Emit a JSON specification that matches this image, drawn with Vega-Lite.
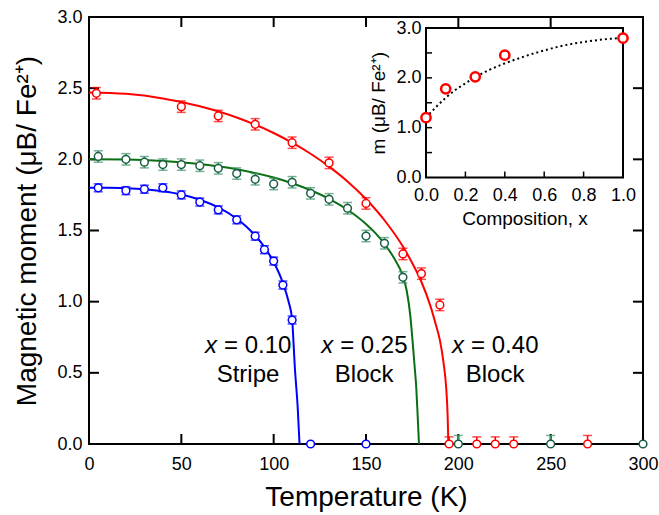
{
  "$schema": "https://vega.github.io/schema/vega-lite/v6.json",
  "width": 554,
  "height": 427,
  "autosize": "none",
  "padding": {"left": 89, "top": 17, "right": 16, "bottom": 71},
  "background": "white",
  "config": {
    "view": {"stroke": null, "fill": null},
    "font": "Liberation Sans",
    "axis": {"grid": false, "labelColor": "#000000", "titleColor": "#000000", "titleFontWeight": "normal", "labelFont": "Liberation Sans", "titleFont": "Liberation Sans"},
    "text": {"font": "Liberation Sans", "color": "black"}
  },
  "datasets": {
    "curves": [
      {"s": "0.10", "T": 0, "M": 1.80}, {"s": "0.10", "T": 10, "M": 1.80}, {"s": "0.10", "T": 20, "M": 1.797}, {"s": "0.10", "T": 30, "M": 1.79}, {"s": "0.10", "T": 40, "M": 1.776}, {"s": "0.10", "T": 50, "M": 1.753}, {"s": "0.10", "T": 60, "M": 1.716}, {"s": "0.10", "T": 70, "M": 1.662}, {"s": "0.10", "T": 80, "M": 1.583}, {"s": "0.10", "T": 85, "M": 1.530}, {"s": "0.10", "T": 90, "M": 1.465}, {"s": "0.10", "T": 95, "M": 1.384}, {"s": "0.10", "T": 100, "M": 1.279}, {"s": "0.10", "T": 105, "M": 1.131}, {"s": "0.10", "T": 108, "M": 1.004}, {"s": "0.10", "T": 110, "M": 0.875}, {"s": "0.10", "T": 110.8, "M": 0.70}, {"s": "0.10", "T": 111.5, "M": 0.53}, {"s": "0.10", "T": 112.3, "M": 0.39}, {"s": "0.10", "T": 113.0, "M": 0.26}, {"s": "0.10", "T": 113.5, "M": 0.13}, {"s": "0.10", "T": 114, "M": 0},
      {"s": "0.25", "T": 0, "M": 2.0}, {"s": "0.25", "T": 20, "M": 1.998}, {"s": "0.25", "T": 40, "M": 1.988}, {"s": "0.25", "T": 60, "M": 1.967}, {"s": "0.25", "T": 80, "M": 1.930}, {"s": "0.25", "T": 100, "M": 1.872}, {"s": "0.25", "T": 110, "M": 1.832}, {"s": "0.25", "T": 120, "M": 1.783}, {"s": "0.25", "T": 130, "M": 1.723}, {"s": "0.25", "T": 140, "M": 1.646}, {"s": "0.25", "T": 150, "M": 1.546}, {"s": "0.25", "T": 155, "M": 1.483}, {"s": "0.25", "T": 160, "M": 1.406}, {"s": "0.25", "T": 165, "M": 1.310}, {"s": "0.25", "T": 170, "M": 1.178}, {"s": "0.25", "T": 172, "M": 1.08}, {"s": "0.25", "T": 174, "M": 0.90}, {"s": "0.25", "T": 175.3, "M": 0.71}, {"s": "0.25", "T": 176.3, "M": 0.55}, {"s": "0.25", "T": 177.2, "M": 0.40}, {"s": "0.25", "T": 177.9, "M": 0.22}, {"s": "0.25", "T": 178.4, "M": 0.08}, {"s": "0.25", "T": 178.7, "M": 0},
      {"s": "0.40", "T": 0, "M": 2.47}, {"s": "0.40", "T": 20, "M": 2.46}, {"s": "0.40", "T": 40, "M": 2.428}, {"s": "0.40", "T": 60, "M": 2.373}, {"s": "0.40", "T": 80, "M": 2.294}, {"s": "0.40", "T": 100, "M": 2.185}, {"s": "0.40", "T": 110, "M": 2.117}, {"s": "0.40", "T": 120, "M": 2.039}, {"s": "0.40", "T": 130, "M": 1.949}, {"s": "0.40", "T": 140, "M": 1.845}, {"s": "0.40", "T": 150, "M": 1.721}, {"s": "0.40", "T": 160, "M": 1.572}, {"s": "0.40", "T": 170, "M": 1.387}, {"s": "0.40", "T": 175, "M": 1.272}, {"s": "0.40", "T": 180, "M": 1.14}, {"s": "0.40", "T": 185, "M": 0.965}, {"s": "0.40", "T": 188, "M": 0.83}, {"s": "0.40", "T": 190, "M": 0.73}, {"s": "0.40", "T": 192, "M": 0.57}, {"s": "0.40", "T": 193.5, "M": 0.38}, {"s": "0.40", "T": 194.2, "M": 0.2}, {"s": "0.40", "T": 194.6, "M": 0}
    ],
    "pts": [
      {"s": "0.10", "T": 5, "M": 1.80, "lo": 1.772, "hi": 1.828},
      {"s": "0.10", "T": 20, "M": 1.78, "lo": 1.752, "hi": 1.808},
      {"s": "0.10", "T": 30, "M": 1.79, "lo": 1.762, "hi": 1.818},
      {"s": "0.10", "T": 40, "M": 1.80, "lo": 1.772, "hi": 1.828},
      {"s": "0.10", "T": 50, "M": 1.75, "lo": 1.722, "hi": 1.778},
      {"s": "0.10", "T": 60, "M": 1.70, "lo": 1.672, "hi": 1.728},
      {"s": "0.10", "T": 70, "M": 1.645, "lo": 1.617, "hi": 1.673},
      {"s": "0.10", "T": 80, "M": 1.575, "lo": 1.547, "hi": 1.603},
      {"s": "0.10", "T": 90, "M": 1.46, "lo": 1.432, "hi": 1.488},
      {"s": "0.10", "T": 95, "M": 1.365, "lo": 1.337, "hi": 1.393},
      {"s": "0.10", "T": 100, "M": 1.285, "lo": 1.257, "hi": 1.313},
      {"s": "0.10", "T": 105, "M": 1.117, "lo": 1.089, "hi": 1.145},
      {"s": "0.10", "T": 110, "M": 0.871, "lo": 0.843, "hi": 0.899},
      {"s": "0.10", "T": 120, "M": 0},
      {"s": "0.10", "T": 150, "M": 0},
      {"s": "0.25", "T": 5, "M": 2.02, "lo": 1.98, "hi": 2.06},
      {"s": "0.25", "T": 20, "M": 2.0, "lo": 1.96, "hi": 2.04},
      {"s": "0.25", "T": 30, "M": 1.98, "lo": 1.94, "hi": 2.02},
      {"s": "0.25", "T": 40, "M": 1.963, "lo": 1.923, "hi": 2.003},
      {"s": "0.25", "T": 50, "M": 1.963, "lo": 1.923, "hi": 2.003},
      {"s": "0.25", "T": 60, "M": 1.955, "lo": 1.915, "hi": 1.995},
      {"s": "0.25", "T": 70, "M": 1.937, "lo": 1.897, "hi": 1.977},
      {"s": "0.25", "T": 80, "M": 1.90, "lo": 1.86, "hi": 1.94},
      {"s": "0.25", "T": 90, "M": 1.86, "lo": 1.82, "hi": 1.90},
      {"s": "0.25", "T": 100, "M": 1.827, "lo": 1.787, "hi": 1.867},
      {"s": "0.25", "T": 110, "M": 1.839, "lo": 1.799, "hi": 1.879},
      {"s": "0.25", "T": 120, "M": 1.761, "lo": 1.721, "hi": 1.801},
      {"s": "0.25", "T": 130, "M": 1.719, "lo": 1.679, "hi": 1.759},
      {"s": "0.25", "T": 140, "M": 1.656, "lo": 1.616, "hi": 1.696},
      {"s": "0.25", "T": 150, "M": 1.461, "lo": 1.421, "hi": 1.501},
      {"s": "0.25", "T": 160, "M": 1.41, "lo": 1.37, "hi": 1.45},
      {"s": "0.25", "T": 170, "M": 1.171, "lo": 1.131, "hi": 1.211},
      {"s": "0.25", "T": 200, "M": 0, "lo": 0, "hi": 0.06},
      {"s": "0.25", "T": 250, "M": 0, "lo": 0, "hi": 0.06},
      {"s": "0.25", "T": 300, "M": 0},
      {"s": "0.40", "T": 4, "M": 2.464, "lo": 2.424, "hi": 2.504},
      {"s": "0.40", "T": 50, "M": 2.37, "lo": 2.33, "hi": 2.41},
      {"s": "0.40", "T": 70, "M": 2.305, "lo": 2.265, "hi": 2.345},
      {"s": "0.40", "T": 90, "M": 2.246, "lo": 2.206, "hi": 2.286},
      {"s": "0.40", "T": 110, "M": 2.117, "lo": 2.077, "hi": 2.157},
      {"s": "0.40", "T": 130, "M": 1.975, "lo": 1.935, "hi": 2.015},
      {"s": "0.40", "T": 150, "M": 1.69, "lo": 1.65, "hi": 1.73},
      {"s": "0.40", "T": 170, "M": 1.335, "lo": 1.295, "hi": 1.375},
      {"s": "0.40", "T": 180, "M": 1.197, "lo": 1.157, "hi": 1.237},
      {"s": "0.40", "T": 190, "M": 0.977, "lo": 0.937, "hi": 1.017},
      {"s": "0.40", "T": 195, "M": 0, "lo": 0, "hi": 0.05},
      {"s": "0.40", "T": 210, "M": 0, "lo": 0, "hi": 0.05},
      {"s": "0.40", "T": 220, "M": 0, "lo": 0, "hi": 0.05},
      {"s": "0.40", "T": 230, "M": 0, "lo": 0, "hi": 0.05},
      {"s": "0.40", "T": 270, "M": 0, "lo": 0, "hi": 0.06}
    ],
    "labels": [
      {"T": 86.1, "M1": 0.637, "M2": 0.438, "comp": "= 0.10", "phase": "Stripe"},
      {"T": 149.0, "M1": 0.637, "M2": 0.438, "comp": "= 0.25", "phase": "Block"},
      {"T": 219.9, "M1": 0.637, "M2": 0.438, "comp": "= 0.40", "phase": "Block"}
    ],
    "insetPts": [
      {"c": 0, "m": 1.2}, {"c": 0.1, "m": 1.78}, {"c": 0.25, "m": 2.02}, {"c": 0.4, "m": 2.455}, {"c": 1.0, "m": 2.795}
    ],
    "insetCurve": [
      {"c": 0, "m": 1.20}, {"c": 0.05, "m": 1.41}, {"c": 0.1, "m": 1.60}, {"c": 0.15, "m": 1.76}, {"c": 0.2, "m": 1.89}, {"c": 0.25, "m": 2.01}, {"c": 0.3, "m": 2.12}, {"c": 0.35, "m": 2.21}, {"c": 0.4, "m": 2.29}, {"c": 0.5, "m": 2.43}, {"c": 0.6, "m": 2.55}, {"c": 0.7, "m": 2.65}, {"c": 0.8, "m": 2.72}, {"c": 0.9, "m": 2.77}, {"c": 1.0, "m": 2.80}
    ],
    "xt": [{"v": 50}, {"v": 100}, {"v": 150}, {"v": 200}, {"v": 250}],
    "yt": [{"v": 0.5}, {"v": 1}, {"v": 1.5}, {"v": 2}, {"v": 2.5}],
    "ixt": [{"v": 0.2}, {"v": 0.4}, {"v": 0.6}, {"v": 0.8}],
    "iyt": [{"v": 0.5}, {"v": 1}, {"v": 1.5}, {"v": 2}, {"v": 2.5}]
  },
  "layer": [
    {
      "data": {"values": [{}]},
      "mark": {"type": "rect", "fill": null, "stroke": "#000000", "strokeWidth": 2},
      "encoding": {
        "x": {"datum": 0, "type": "quantitative", "scale": {"domain": [0, 300], "nice": false}, "axis": null},
        "x2": {"datum": 300},
        "y": {"datum": 0, "type": "quantitative", "scale": {"domain": [0, 3], "nice": false}, "axis": null},
        "y2": {"datum": 3}
      }
    },
    {
      "data": {"name": "xt"},
      "mark": {"type": "rule", "color": "#000000", "strokeWidth": 2, "opacity": 1},
      "encoding": {
        "x": {"field": "v", "type": "quantitative", "scale": {"domain": [0, 300], "nice": false}, "axis": null},
        "y": {"datum": 0, "type": "quantitative", "scale": {"domain": [0, 3], "nice": false}, "axis": null},
        "y2": {"datum": 0.0703}
      }
    },
    {
      "data": {"name": "xt"},
      "mark": {"type": "rule", "color": "#000000", "strokeWidth": 2, "opacity": 1},
      "encoding": {
        "x": {"field": "v", "type": "quantitative", "scale": {"domain": [0, 300], "nice": false}, "axis": null},
        "y": {"datum": 2.9297, "type": "quantitative", "scale": {"domain": [0, 3], "nice": false}, "axis": null},
        "y2": {"datum": 3}
      }
    },
    {
      "data": {"name": "yt"},
      "mark": {"type": "rule", "color": "#000000", "strokeWidth": 2, "opacity": 1},
      "encoding": {
        "x": {"datum": 0, "type": "quantitative", "scale": {"domain": [0, 300], "nice": false}, "axis": null},
        "x2": {"datum": 5.42},
        "y": {"field": "v", "type": "quantitative", "scale": {"domain": [0, 3], "nice": false}, "axis": null}
      }
    },
    {
      "data": {"name": "yt"},
      "mark": {"type": "rule", "color": "#000000", "strokeWidth": 2, "opacity": 1},
      "encoding": {
        "x": {"datum": 294.58, "type": "quantitative", "scale": {"domain": [0, 300], "nice": false}, "axis": null},
        "x2": {"datum": 300},
        "y": {"field": "v", "type": "quantitative", "scale": {"domain": [0, 3], "nice": false}, "axis": null}
      }
    },
    {
      "data": {"name": "curves"},
      "mark": {"type": "line", "interpolate": "monotone", "strokeWidth": 2},
      "encoding": {
        "x": {"field": "T", "type": "quantitative", "scale": {"domain": [0, 300], "nice": false},
          "axis": {"orient": "bottom", "values": [0, 50, 100, 150, 200, 250, 300], "domain": false, "ticks": false, "labelFontSize": 18, "labelPadding": 11, "labelFlush": false, "labelOverlap": false, "title": "Temperature (K)", "titleFontSize": 28, "titlePadding": 10}},
        "y": {"field": "M", "type": "quantitative", "scale": {"domain": [0, 3], "nice": false},
          "axis": {"orient": "left", "values": [0, 0.5, 1, 1.5, 2, 2.5, 3], "format": ".1f", "domain": false, "ticks": false, "labelFontSize": 18, "labelPadding": 7, "labelFlush": false, "labelOverlap": false, "title": "Magnetic moment (μB/ Fe²⁺)", "titleFontSize": 28, "titlePadding": 15}},
        "color": {"field": "s", "type": "nominal", "scale": {"domain": ["0.10", "0.25", "0.40"], "range": ["#0000ff", "#0b6e14", "#ff0000"]}, "legend": null}
      }
    },
    {
      "data": {"name": "pts"},
      "transform": [{"filter": "isValid(datum.hi)"}],
      "mark": {"type": "errorbar", "ticks": {"size": 9}, "thickness": 1.5},
      "encoding": {
        "x": {"field": "T", "type": "quantitative", "scale": {"domain": [0, 300], "nice": false}, "axis": null},
        "y": {"field": "lo", "type": "quantitative", "scale": {"domain": [0, 3], "nice": false}, "axis": null},
        "y2": {"field": "hi"},
        "color": {"field": "s", "type": "nominal", "scale": {"domain": ["0.10", "0.25", "0.40"], "range": ["#0000ff", "#3b9163", "#ff0000"]}, "legend": null}
      }
    },
    {
      "data": {"name": "pts"},
      "mark": {"type": "point", "shape": "circle", "filled": true, "fill": "white", "strokeWidth": 1.5, "size": 60, "opacity": 1},
      "encoding": {
        "x": {"field": "T", "type": "quantitative", "scale": {"domain": [0, 300], "nice": false}, "axis": null},
        "y": {"field": "M", "type": "quantitative", "scale": {"domain": [0, 3], "nice": false}, "axis": null},
        "stroke": {"field": "s", "type": "nominal", "scale": {"domain": ["0.10", "0.25", "0.40"], "range": ["#0000ff", "#1b5e45", "#ff0000"]}, "legend": null}
      }
    },
    {
      "data": {"name": "labels"},
      "mark": {"type": "text", "text": "x", "fontStyle": "italic", "fontSize": 24, "align": "right", "baseline": "alphabetic", "dx": -31},
      "encoding": {
        "x": {"field": "T", "type": "quantitative", "scale": {"domain": [0, 300], "nice": false}, "axis": null},
        "y": {"field": "M1", "type": "quantitative", "scale": {"domain": [0, 3], "nice": false}, "axis": null}
      }
    },
    {
      "data": {"name": "labels"},
      "mark": {"type": "text", "fontSize": 24, "align": "left", "baseline": "alphabetic", "dx": -24},
      "encoding": {
        "x": {"field": "T", "type": "quantitative", "scale": {"domain": [0, 300], "nice": false}, "axis": null},
        "y": {"field": "M1", "type": "quantitative", "scale": {"domain": [0, 3], "nice": false}, "axis": null},
        "text": {"field": "comp"}
      }
    },
    {
      "data": {"name": "labels"},
      "mark": {"type": "text", "fontSize": 24, "align": "center", "baseline": "alphabetic"},
      "encoding": {
        "x": {"field": "T", "type": "quantitative", "scale": {"domain": [0, 300], "nice": false}, "axis": null},
        "y": {"field": "M2", "type": "quantitative", "scale": {"domain": [0, 3], "nice": false}, "axis": null},
        "text": {"field": "phase"}
      }
    },
    {
      "data": {"values": [{}]},
      "mark": {"type": "rect", "fill": null, "stroke": "#000000", "strokeWidth": 2},
      "encoding": {
        "x": {"datum": 0, "type": "quantitative", "scale": {"domain": [0, 1], "nice": false, "range": [337, 534]}, "axis": null},
        "x2": {"datum": 1},
        "y": {"datum": 0, "type": "quantitative", "scale": {"domain": [0, 3], "nice": false, "range": [160.5, 11]}, "axis": null},
        "y2": {"datum": 3}
      }
    },
    {
      "data": {"name": "ixt"},
      "mark": {"type": "rule", "color": "#000000", "strokeWidth": 1.5, "opacity": 1},
      "encoding": {
        "x": {"field": "v", "type": "quantitative", "scale": {"domain": [0, 1], "nice": false, "range": [337, 534]}, "axis": null},
        "y": {"datum": 0, "type": "quantitative", "scale": {"domain": [0, 3], "nice": false, "range": [160.5, 11]}, "axis": null},
        "y2": {"datum": 0.12}
      }
    },
    {
      "data": {"name": "iyt"},
      "mark": {"type": "rule", "color": "#000000", "strokeWidth": 1.5, "opacity": 1},
      "encoding": {
        "x": {"datum": 0, "type": "quantitative", "scale": {"domain": [0, 1], "nice": false, "range": [337, 534]}, "axis": null},
        "x2": {"datum": 0.0305},
        "y": {"field": "v", "type": "quantitative", "scale": {"domain": [0, 3], "nice": false, "range": [160.5, 11]}, "axis": null}
      }
    },
    {
      "data": {"name": "insetCurve"},
      "mark": {"type": "line", "interpolate": "monotone", "strokeDash": [2, 3], "strokeWidth": 2, "color": "black"},
      "encoding": {
        "x": {"field": "c", "type": "quantitative", "scale": {"domain": [0, 1], "nice": false, "range": [337, 534]}, "axis": null},
        "y": {"field": "m", "type": "quantitative", "scale": {"domain": [0, 3], "nice": false, "range": [160.5, 11]}, "axis": null}
      }
    },
    {
      "data": {"name": "insetPts"},
      "mark": {"type": "point", "shape": "circle", "filled": true, "fill": "white", "stroke": "#ff0000", "strokeWidth": 2.5, "size": 85, "opacity": 1},
      "encoding": {
        "x": {"field": "c", "type": "quantitative", "scale": {"domain": [0, 1], "nice": false, "range": [337, 534]},
          "axis": {"orient": "bottom", "offset": -266.5, "values": [0, 0.2, 0.4, 0.6, 0.8, 1], "format": ".1f", "domain": false, "ticks": false, "labelFontSize": 18, "labelPadding": 9, "labelFlush": false, "labelOverlap": false, "title": "Composition, x", "titleFontSize": 19, "titlePadding": 5}},
        "y": {"field": "m", "type": "quantitative", "scale": {"domain": [0, 3], "nice": false, "range": [160.5, 11]},
          "axis": {"orient": "left", "offset": -337, "values": [0, 1, 2, 3], "format": ".1f", "domain": false, "ticks": false, "labelFontSize": 18, "labelPadding": 5, "labelFlush": false, "labelOverlap": false, "title": "m (μB/ Fe²⁺)", "titleFontSize": 19, "titlePadding": 7}}
      }
    }
  ],
  "resolve": {"scale": {"x": "independent", "y": "independent", "color": "independent", "stroke": "independent"}, "axis": {"x": "independent", "y": "independent"}}
}
